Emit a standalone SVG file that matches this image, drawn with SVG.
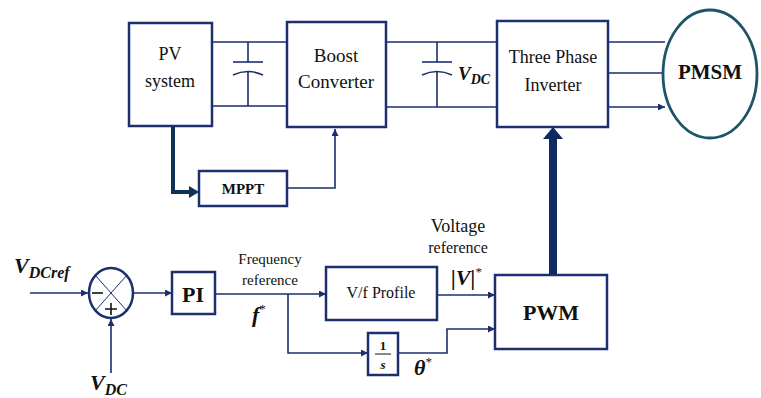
<svg xmlns="http://www.w3.org/2000/svg" width="761" height="398" viewBox="0 0 761 398">
<defs>
<style>
.box{fill:#fff;stroke:#1c2f6e;stroke-width:2.5}
.w{fill:none;stroke:#1c2f6e;stroke-width:1.6}
.t{font-family:"Liberation Serif","DejaVu Serif",serif;fill:#111;text-anchor:middle}
.m{font-family:"Liberation Serif","DejaVu Serif",serif;font-weight:bold;font-style:italic;fill:#111}
</style>
<marker id="a" viewBox="0 0 10 10" refX="10" refY="5" markerWidth="7" markerHeight="7" markerUnits="userSpaceOnUse" orient="auto"><path d="M0,0 L10,5 L0,10 z" fill="#1c2f6e"/></marker>
</defs>
<g id="connectors">
<path class="w" d="M212,42 H287 M212,106 H287 M248,42 V62 M248,72 V106"/>
<path class="w" d="M233,62 H263" stroke-width="2.5"/>
<path class="w" d="M233,75 Q248,68 263,75" stroke-width="2.5"/>
<path class="w" d="M386,42 H498 M386,107 H498 M437,42 V62 M437,72 V107"/>
<path class="w" d="M422,62 H452" stroke-width="2.5"/>
<path class="w" d="M422,75 Q437,68 452,75" stroke-width="2.5"/>
<path class="w" d="M608,42 H665 M608,73 H665 M608,107 H665" marker-end="url(#a)"/>
<path d="M173,126 V192 H190" fill="none" stroke="#0f3257" stroke-width="4"/>
<path d="M189,186 L199,192 L189,198 z" fill="#0f3257"/>
<path class="w" d="M287,188 H335 V129" marker-end="url(#a)"/>
<path d="M553,275 V138" fill="none" stroke="#0f2a60" stroke-width="8"/>
<path d="M543,139 L553,127 L563,139 z" fill="#0f2a60"/>
<path class="w" d="M30,293 H88" marker-end="url(#a)"/>
<path class="w" d="M111,373 V319" marker-end="url(#a)"/>
<path class="w" d="M133,293 H172" marker-end="url(#a)"/>
<path class="w" d="M215,294 H326" marker-end="url(#a)"/>
<path class="w" d="M288,294 V353 H368" marker-end="url(#a)"/>
<path class="w" d="M437,295 H495" marker-end="url(#a)"/>
<path class="w" d="M398,353 H447 V329 H495" marker-end="url(#a)"/>
</g>
<g id="pv"><rect class="box" x="129" y="23" width="83" height="103"/><text class="t" x="170" y="60" font-size="18">PV</text><text class="t" x="170" y="87" font-size="18">system</text></g>
<g id="boost"><rect class="box" x="287" y="22" width="99" height="105"/><text class="t" x="336" y="62" font-size="19">Boost</text><text class="t" x="336" y="88" font-size="19">Converter</text></g>
<g id="vdc-label"><text class="m" x="458" y="80" font-size="19">V<tspan font-size="14" dy="4">DC</tspan></text></g>
<g id="inverter"><rect class="box" x="497" y="21" width="111" height="106"/><text class="t" x="553" y="63" font-size="18">Three Phase</text><text class="t" x="553" y="91" font-size="18">Inverter</text></g>
<g id="pmsm"><ellipse cx="710" cy="74" rx="47" ry="64" fill="#fff" stroke="#1d5566" stroke-width="2.8"/><text class="t" x="710" y="79" font-size="21" font-weight="bold">PMSM</text></g>
<g id="mppt"><rect class="box" x="199" y="171" width="88" height="35"/><text class="t" x="243" y="194" font-size="15" font-weight="bold">MPPT</text></g>
<g id="sum"><ellipse cx="111" cy="293" rx="22" ry="25" fill="#fff" stroke="#1c2f6e" stroke-width="2.5"/>
<path d="M95,275 L127,311 M127,275 L95,311" stroke="#1c2f6e" stroke-width="1"/>
<path d="M92,293 H103" stroke="#111" stroke-width="1.6"/><path d="M105,309 H117 M111,303 V315" stroke="#111" stroke-width="1.6"/></g>
<g id="vdcref"><text class="m" x="14" y="273" font-size="22">V<tspan font-size="16" dy="5">DCref</tspan></text></g>
<g id="vdc2"><text class="m" x="90" y="390" font-size="22">V<tspan font-size="16" dy="5">DC</tspan></text></g>
<g id="pi"><rect class="box" x="172" y="272" width="43" height="42"/><text class="t" x="193" y="302" font-size="22" font-weight="bold">PI</text></g>
<g id="freq"><text class="t" x="270" y="264" font-size="15">Frequency</text><text class="t" x="270" y="285" font-size="15">reference</text><text class="m" x="252" y="322" font-size="22">f<tspan font-size="13" font-weight="normal" font-style="normal" dy="-9">*</tspan></text></g>
<g id="vf"><rect class="box" x="326" y="267" width="111" height="53"/><text class="t" x="381" y="298" font-size="16">V/f Profile</text></g>
<g id="integ"><rect class="box" x="368" y="333" width="30" height="42"/><text class="t" x="383" y="350" font-size="13" font-weight="bold">1</text><path d="M375,354 H391" stroke="#111" stroke-width="1"/><text class="t" x="383" y="369" font-size="13" font-weight="bold" font-style="italic">s</text></g>
<g id="theta"><text class="m" x="414" y="375" font-size="22">θ<tspan font-size="13" font-weight="normal" font-style="normal" dy="-9">*</tspan></text></g>
<g id="volt"><text class="t" x="458" y="232" font-size="18">Voltage</text><text class="t" x="458" y="253" font-size="16">reference</text><text class="m" x="451" y="285" font-size="22">|V|<tspan font-size="13" font-weight="normal" font-style="normal" dy="-9">*</tspan></text></g>
<g id="pwm"><rect class="box" x="495" y="275" width="112" height="74"/><text class="t" x="551" y="320" font-size="22" font-weight="bold">PWM</text></g>
</svg>
